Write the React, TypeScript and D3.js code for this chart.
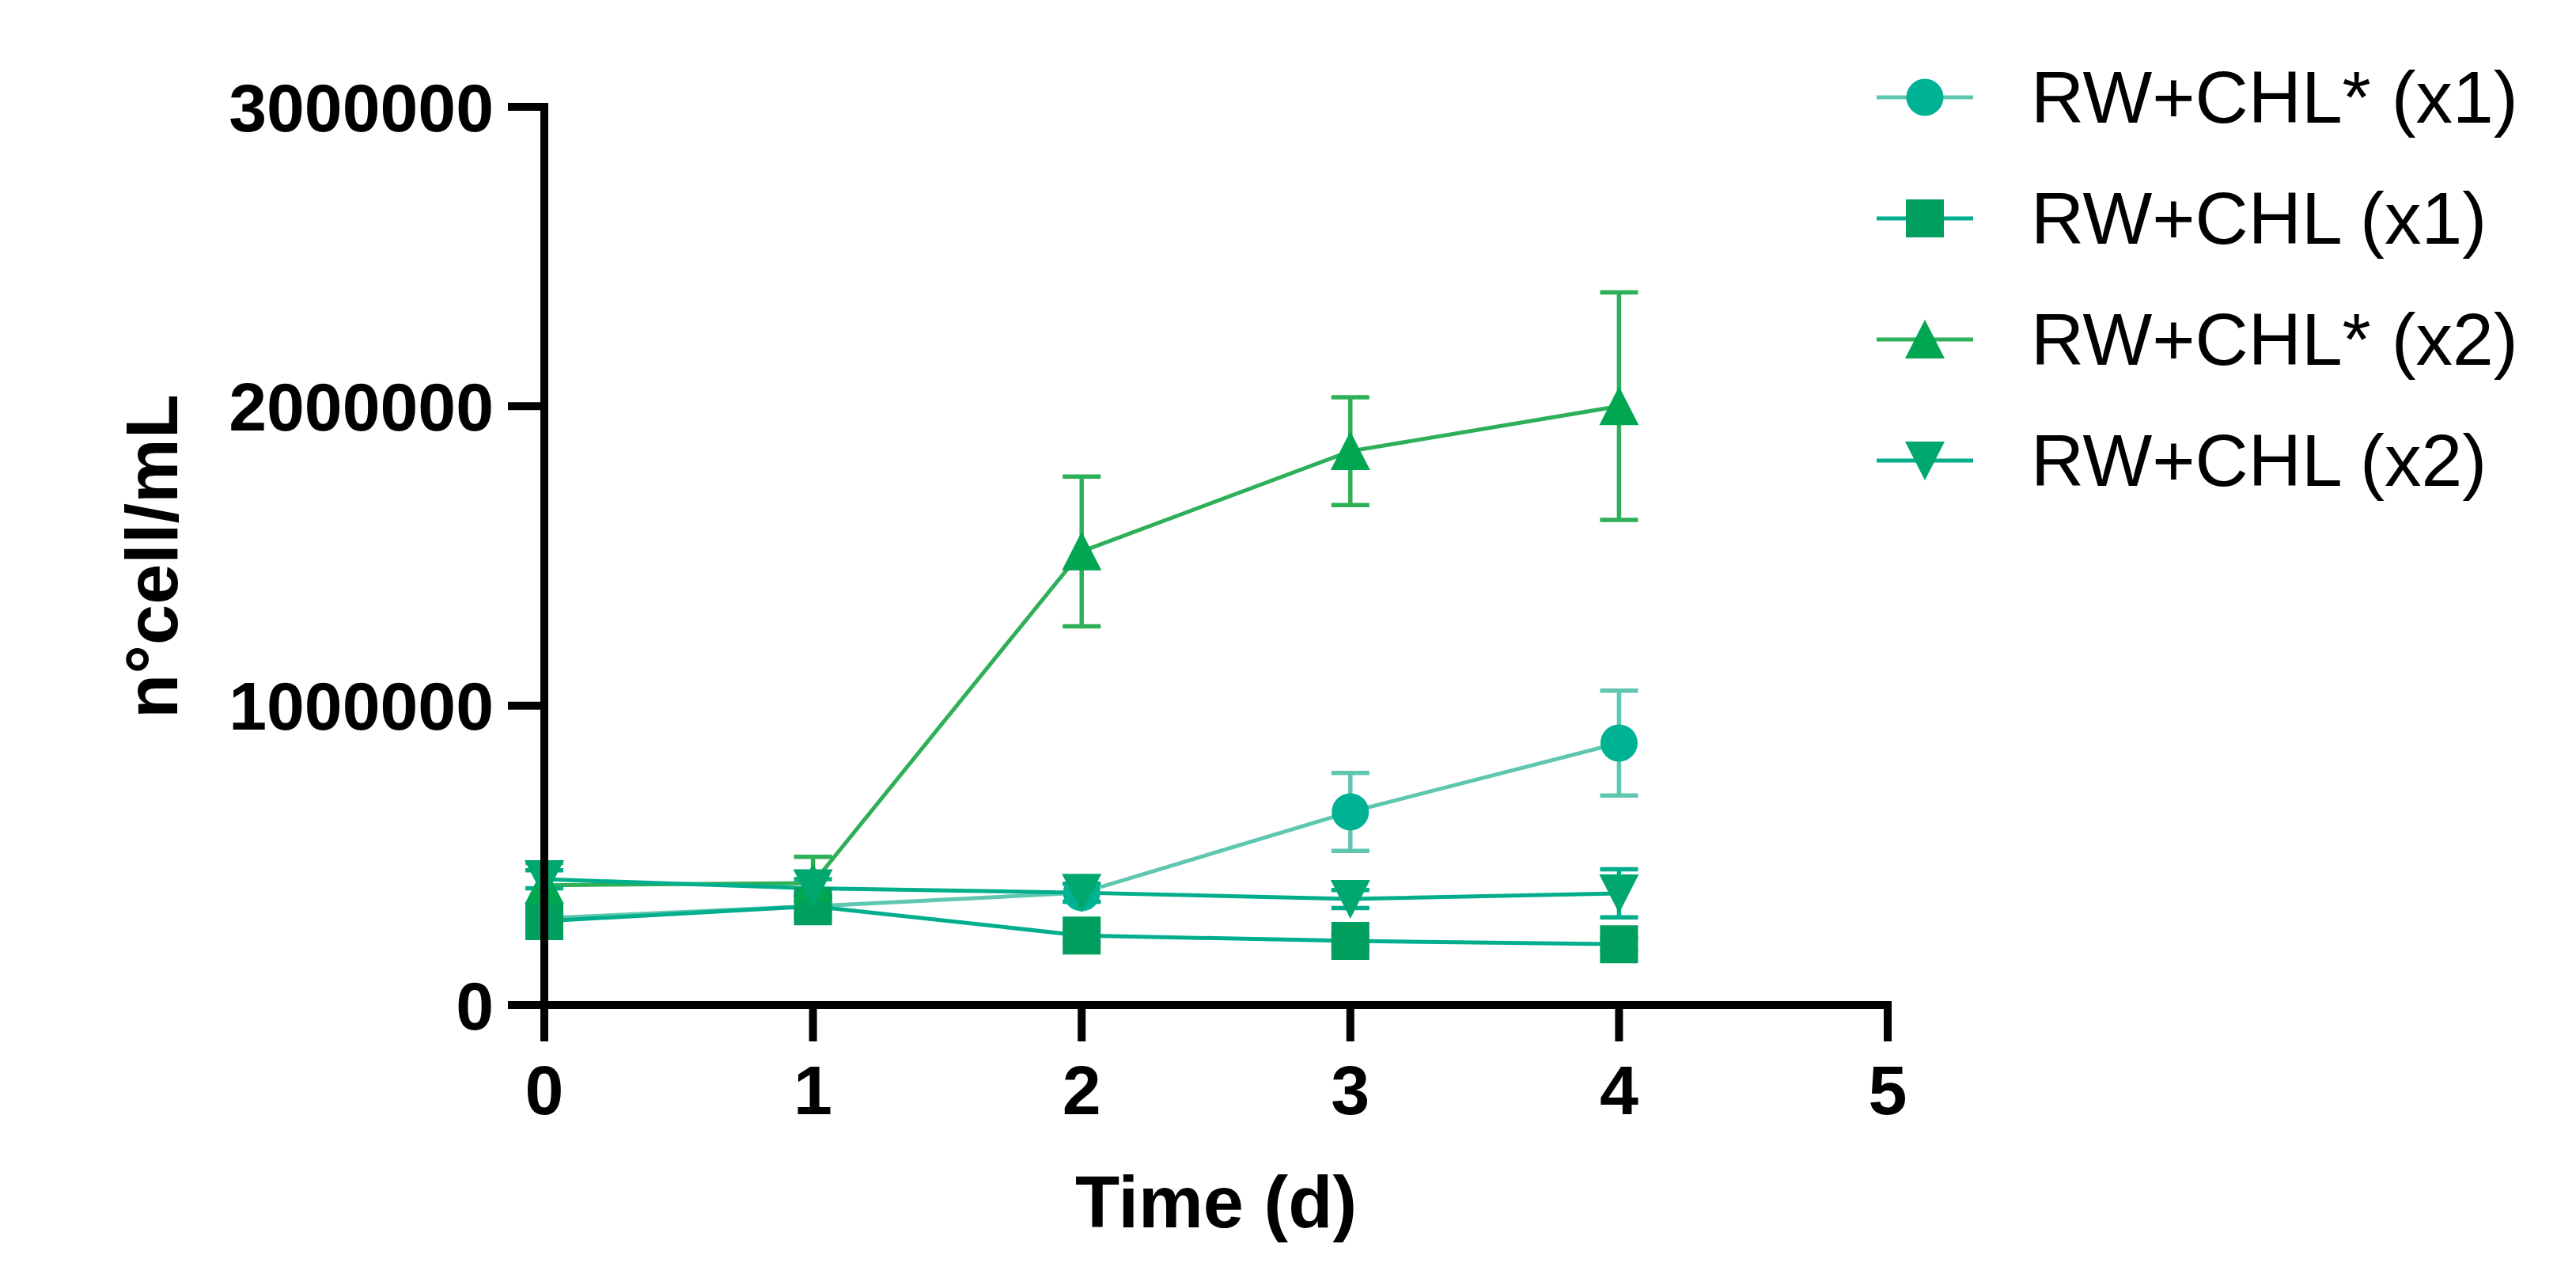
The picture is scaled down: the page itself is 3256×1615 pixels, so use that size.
import * as d3 from "d3";

// Data (cells/mL, mean and error)
const days = [0, 1, 2, 3, 4];

const seriesNames = ["RW+CHL* (x1)", "RW+CHL (x1)", "RW+CHL* (x2)", "RW+CHL (x2)"];

const chlStarX1 = [290000, 330000, 375000, 645000, 875000];
const chlStarX1Err = [30000, 40000, 30000, 130000, 175000];

const chlX1 = [280000, 330000, 232000, 214000, 203000];
const chlX1Err = [20000, 30000, 25000, 20000, 20000];

const chlStarX2 = [400000, 407000, 1515000, 1850000, 2000000];
const chlStarX2Err = [75000, 88000, 250000, 180000, 380000];

const chlX2 = [420000, 390000, 375000, 354000, 373000];
const chlX2Err = [30000, 30000, 30000, 30000, 80000];

const xTicks = [0, 1, 2, 3, 4, 5];
const yTicks = [0, 1000000, 2000000, 3000000];

type Shape = "circle" | "square" | "up" | "down";

const series = [
  { name: seriesNames[0], mean: chlStarX1, err: chlStarX1Err, shape: "circle" as Shape, fill: "#00B294", stroke: "#5FC7B0" },
  { name: seriesNames[1], mean: chlX1, err: chlX1Err, shape: "square" as Shape, fill: "#009E5F", stroke: "#00AE8E" },
  { name: seriesNames[2], mean: chlStarX2, err: chlStarX2Err, shape: "up" as Shape, fill: "#00A650", stroke: "#2DB058" },
  { name: seriesNames[3], mean: chlX2, err: chlX2Err, shape: "down" as Shape, fill: "#00A870", stroke: "#00AE8B" },
];

const W = 3256;
const H = 1615;
const FONT = "'Liberation Sans', Arial, sans-serif";

const x = d3.scaleLinear().domain([0, 5]).range([688, 2386]);
const y = d3.scaleLinear().domain([0, 3000000]).range([1270, 135]);

// marker outline centred on (0,0)
function markerPath(shape: Shape): string {
  const p = d3.path();
  if (shape === "circle") {
    p.arc(0, 0, 23.5, 0, Math.PI * 2);
  } else if (shape === "square") {
    p.rect(-24, -24, 48, 48);
  } else if (shape === "up") {
    p.moveTo(0, -25);
    p.lineTo(25, 24);
    p.lineTo(-25, 24);
    p.closePath();
  } else {
    p.moveTo(-25, -24);
    p.lineTo(25, -24);
    p.lineTo(0, 25);
    p.closePath();
  }
  return p.toString();
}

export default function App() {
  const line = d3
    .line<number>()
    .x((_, i) => x(days[i]))
    .y((d) => y(d));

  const axisStroke = 10;
  const tickLen = 46;

  return (
    <svg
      width={W}
      height={H}
      style={{ position: "absolute", left: 0, top: 0, background: "#fff" }}
      fontFamily={FONT}
    >
      <rect width={W} height={H} fill="#fff" />

      {/* series lines */}
      {series.map((s) => (
        <path key={s.name + "-line"} d={line(s.mean) ?? ""} fill="none" stroke={s.stroke} strokeWidth={5} />
      ))}

      {/* error bars */}
      {series.map((s) =>
        s.mean.map((m, i) => {
          const cx = x(days[i]);
          const top = y(m + s.err[i]);
          const bot = y(m - s.err[i]);
          return (
            <g key={s.name + "-err-" + i} stroke={s.stroke} strokeWidth={5.5}>
              <line x1={cx} x2={cx} y1={top} y2={bot} />
              <line x1={cx - 24} x2={cx + 24} y1={top} y2={top} />
              <line x1={cx - 24} x2={cx + 24} y1={bot} y2={bot} />
            </g>
          );
        })
      )}

      {/* markers */}
      {series.map((s) =>
        s.mean.map((m, i) => (
          <path
            key={s.name + "-pt-" + i}
            d={markerPath(s.shape)}
            transform={`translate(${x(days[i])},${y(m)})`}
            fill={s.fill}
          />
        ))
      )}

      {/* y axis */}
      <line x1={x(0)} x2={x(0)} y1={y(3000000) - axisStroke / 2} y2={y(0) + tickLen} stroke="#000" strokeWidth={axisStroke} />
      {yTicks.map((t) => (
        <g key={"yt" + t}>
          <line x1={x(0) - tickLen} x2={x(0)} y1={y(t)} y2={y(t)} stroke="#000" strokeWidth={axisStroke} />
          <text
            x={x(0) - tickLen - 18}
            y={y(t)}
            dy="0.355em"
            textAnchor="end"
            fontSize={86}
            fontWeight="bold"
          >
            {t}
          </text>
        </g>
      ))}

      {/* x axis */}
      <line x1={x(0) - tickLen} x2={x(5) + axisStroke / 2} y1={y(0)} y2={y(0)} stroke="#000" strokeWidth={axisStroke} />
      {xTicks.map((t) => (
        <g key={"xt" + t}>
          <line x1={x(t)} x2={x(t)} y1={y(0)} y2={y(0) + tickLen} stroke="#000" strokeWidth={axisStroke} />
          <text x={x(t)} y={1408} textAnchor="middle" fontSize={88} fontWeight="bold">
            {t}
          </text>
        </g>
      ))}

      {/* axis titles */}
      <text x={1537} y={1551} textAnchor="middle" fontSize={92} fontWeight="bold">
        Time (d)
      </text>
      <text transform="translate(224,703) rotate(-90)" textAnchor="middle" fontSize={92} fontWeight="bold">
        n°cell/mL
      </text>

      {/* legend */}
      {series.map((s, i) => {
        const ly = 123 + i * 153;
        return (
          <g key={s.name + "-legend"}>
            <line x1={2372} x2={2494} y1={ly} y2={ly} stroke={s.stroke} strokeWidth={5} />
            <path d={markerPath(s.shape)} transform={`translate(2433,${ly})`} fill={s.fill} />
            <text x={2567} y={ly + 32} fontSize={93}>
              {s.name}
            </text>
          </g>
        );
      })}
    </svg>
  );
}
